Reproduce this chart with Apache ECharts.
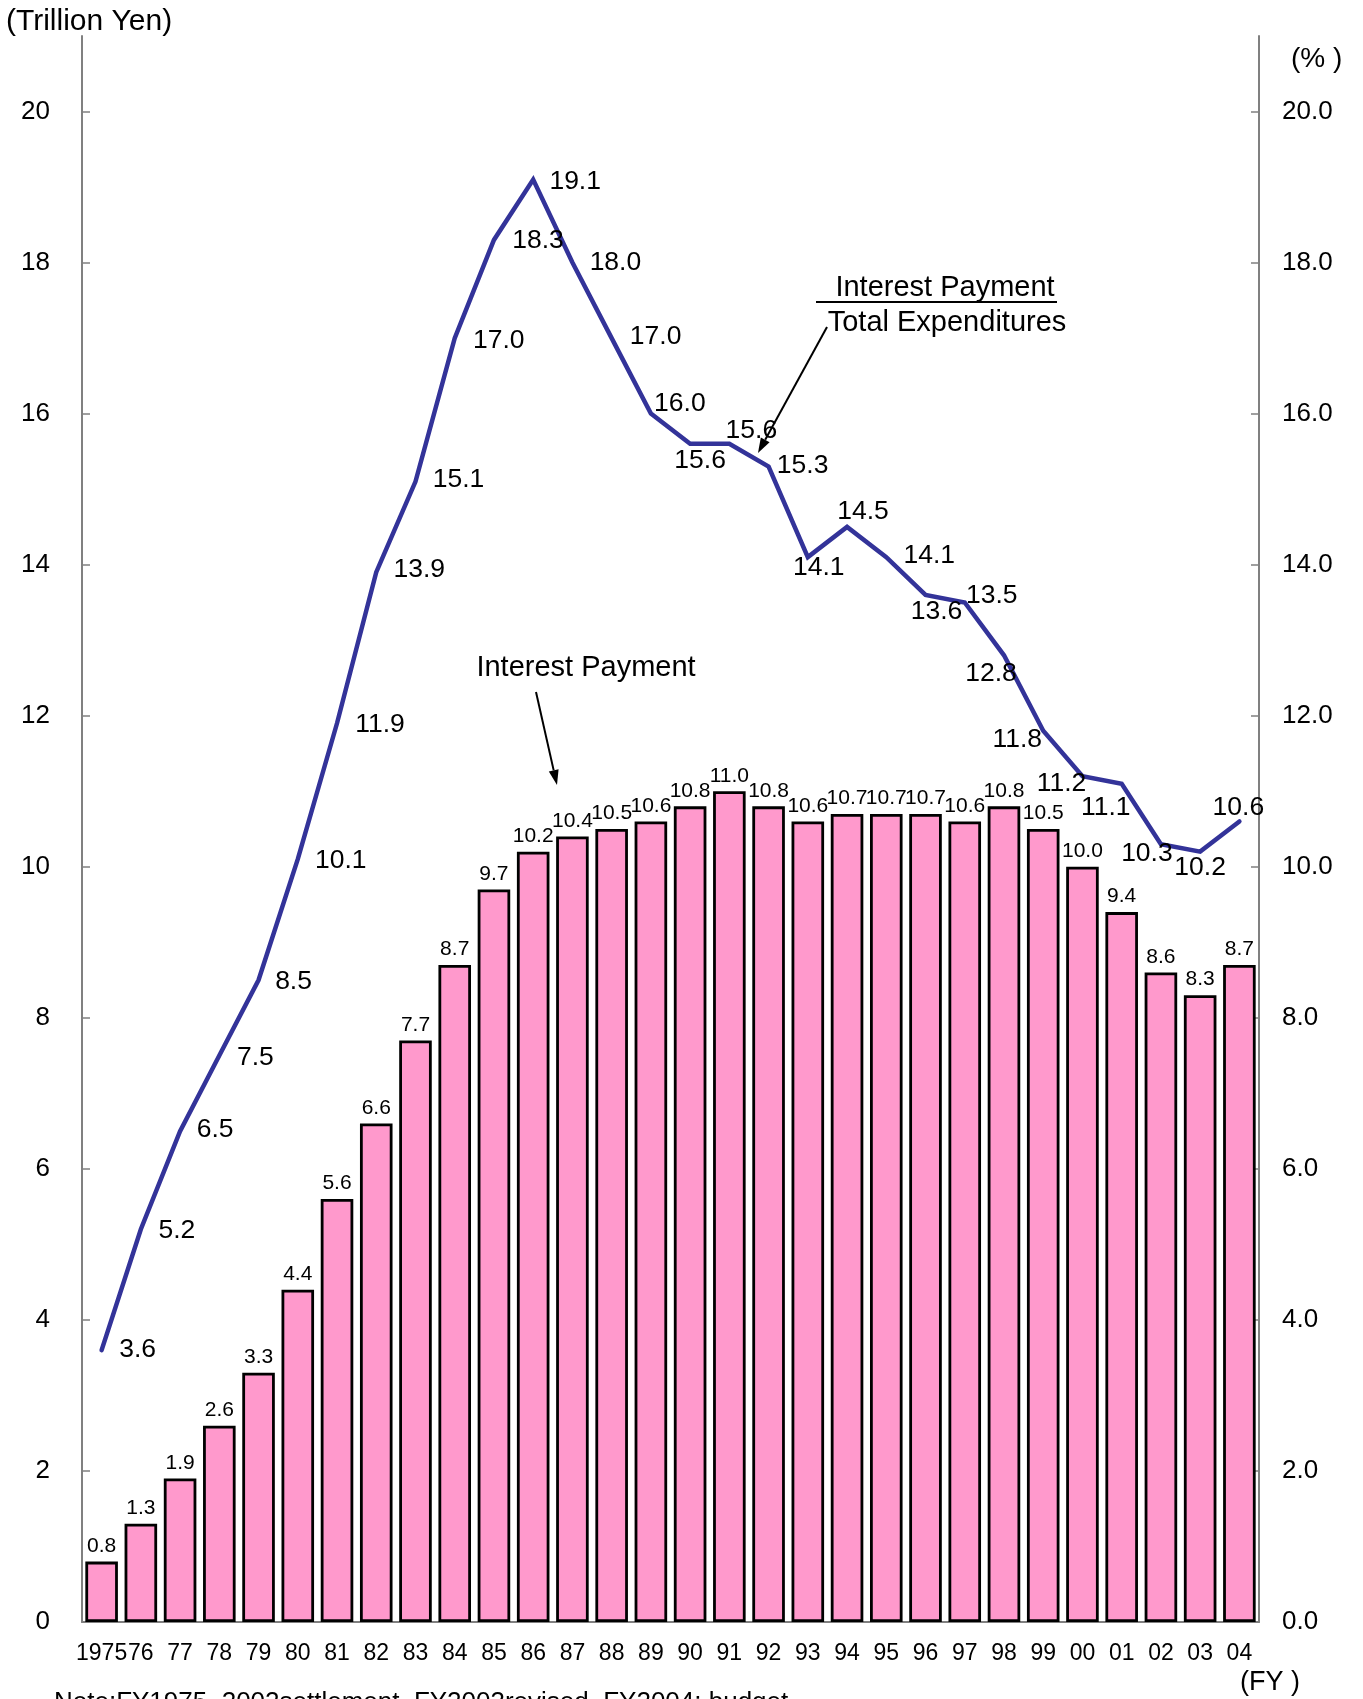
<!DOCTYPE html>
<html>
<head>
<meta charset="utf-8">
<title>Interest Payment</title>
<script src="https://cdn.jsdelivr.net/npm/echarts@6/dist/echarts.min.js"></script>
<style>
html, body { margin: 0; padding: 0; background: #fff; }
#chart { width: 1363px; height: 1699px; }
</style>
</head>
<body>
<div id="chart"></div>
<script>
const years = ['1975', '76', '77', '78', '79', '80', '81', '82', '83', '84',
  '85', '86', '87', '88', '89', '90', '91', '92', '93', '94',
  '95', '96', '97', '98', '99', '00', '01', '02', '03', '04'];
// trillion yen
const interestPayment = [0.8, 1.3, 1.9, 2.6, 3.3, 4.4, 5.6, 6.6, 7.7, 8.7,
  9.7, 10.2, 10.4, 10.5, 10.6, 10.8, 11.0, 10.8, 10.6, 10.7,
  10.7, 10.7, 10.6, 10.8, 10.5, 10.0, 9.4, 8.6, 8.3, 8.7];
// interest payment / total expenditures (%)
const interestRatio = [3.6, 5.2, 6.5, 7.5, 8.5, 10.1, 11.9, 13.9, 15.1, 17.0,
  18.3, 19.1, 18.0, 17.0, 16.0, 15.6, 15.6, 15.3, 14.1, 14.5,
  14.1, 13.6, 13.5, 12.8, 11.8, 11.2, 11.1, 10.3, 10.2, 10.6];
const leftTicks = [0, 2, 4, 6, 8, 10, 12, 14, 16, 18, 20];
const rightTicks = [0, 2, 4, 6, 8, 10, 12, 14, 16, 18, 20];

// where each ratio label sits relative to its point (style only)
const ratioLabelOffset = [
  [36, 0], [36, 1], [35, -1], [36, 2], [35, 2], [43, 1], [43, 1], [43, -3], [43, -2], [44, 3],
  [44, 1], [42, 2], [43, 0], [44, -1], [29, -10], [10, 17], [22, -13], [34, -1], [11, 11], [16, -15],
  [43, -1], [11, 17], [27, -7], [-13, 18], [-26, 9], [-21, 8], [-16, 24], [-14, 10], [0, 16], [-1, -14]
];

const FONT = 'Liberation Sans, Arial, sans-serif';

function arrow(x1, y1, x2, y2) {
  const a = Math.atan2(y2 - y1, x2 - x1);
  const len = 15, half = 5;
  const bx = x2 - len * Math.cos(a), by = y2 - len * Math.sin(a);
  return [
    { type: 'line', shape: { x1: x1, y1: y1, x2: bx, y2: by }, style: { stroke: '#000', lineWidth: 2 } },
    { type: 'polygon', shape: { points: [[x2, y2],
      [bx + half * Math.sin(a), by - half * Math.cos(a)],
      [bx - half * Math.sin(a), by + half * Math.cos(a)]] }, style: { fill: '#000' } }
  ];
}

function txt(text, x, y, size, align, valign) {
  return {
    type: 'text', x: x, y: y,
    style: { text: text, fontSize: size, fontFamily: FONT, fill: '#000',
      textAlign: align || 'center', textVerticalAlign: valign || 'middle' }
  };
}

const chart = echarts.init(document.getElementById('chart'));

const option = {
  backgroundColor: '#fff',
  animation: false,
  grid: { left: 82, right: 104, top: 36, bottom: 77, outerBoundsMode: 'none' },
  xAxis: {
    type: 'category',
    data: years,
    boundaryGap: true,
    axisLine: { lineStyle: { color: '#808080', width: 2 } },
    axisTick: { inside: true, length: 5, interval: 0, lineStyle: { color: '#808080', width: 1.5 } },
    axisLabel: { interval: 0, fontSize: 23, fontFamily: FONT, color: '#000', margin: 20 }
  },
  yAxis: [
    {
      type: 'value', min: 0, max: 21, position: 'left',
      splitLine: { show: false },
      axisLine: { show: true, lineStyle: { color: '#808080', width: 2 } },
      axisTick: { show: true, inside: true, length: 8, customValues: leftTicks, lineStyle: { color: '#808080', width: 1.5 } },
      axisLabel: { customValues: leftTicks, fontSize: 26, fontFamily: FONT, color: '#000', margin: 32 }
    },
    {
      type: 'value', min: 0, max: 21, position: 'right',
      splitLine: { show: false },
      axisLine: { show: true, lineStyle: { color: '#808080', width: 2 } },
      axisTick: { show: true, inside: true, length: 8, customValues: rightTicks, lineStyle: { color: '#808080', width: 1.5 } },
      axisLabel: { customValues: rightTicks, fontSize: 26, fontFamily: FONT, color: '#000', margin: 23,
        formatter: function (v) { return v.toFixed(1); } }
    }
  ],
  series: [
    {
      name: 'Interest Payment',
      type: 'bar',
      yAxisIndex: 0,
      barCategoryGap: '17%',
      data: interestPayment,
      itemStyle: { color: '#ff99cc', borderColor: '#000', borderWidth: 2.8 },
      label: {
        show: true, position: 'top', distance: 5,
        fontSize: 21, fontFamily: FONT, color: '#000',
        formatter: function (p) { return p.value.toFixed(1); }
      }
    },
    {
      name: 'Interest Payment / Total Expenditures',
      type: 'line',
      yAxisIndex: 1,
      z: 5,
      symbol: 'circle',
      symbolSize: 1,
      itemStyle: { color: '#333399' },
      lineStyle: { color: '#333399', width: 4.5, join: 'miter', cap: 'round' },
      data: interestRatio.map(function (v, i) {
        return { value: v, label: { offset: ratioLabelOffset[i] } };
      }),
      label: {
        show: true, position: 'inside',
        fontSize: 26.5, fontFamily: FONT, color: '#000',
        formatter: function (p) { return p.value.toFixed(1); }
      }
    }
  ],
  graphic: [
    txt('(Trillion Yen)', 6, 22, 30, 'left'),
    txt('(% )', 1291, 59, 28, 'left'),
    txt('(FY )', 1240, 1683, 27, 'left'),
    txt('Note:FY1975\u20132002settlement, FY2003revised, FY2004: budget', 54, 1690, 26, 'left', 'top'),
    txt('Interest Payment', 586, 668, 29),
    txt('Interest Payment', 945, 288, 29),
    { type: 'line', shape: { x1: 816, y1: 302, x2: 1057, y2: 302 }, style: { stroke: '#000', lineWidth: 2 } },
    txt('Total Expenditures', 947, 323, 29)
  ].concat(arrow(536, 692, 557, 785), arrow(827, 327, 758, 453))
};

chart.setOption(option);
</script>
</body>
</html>
